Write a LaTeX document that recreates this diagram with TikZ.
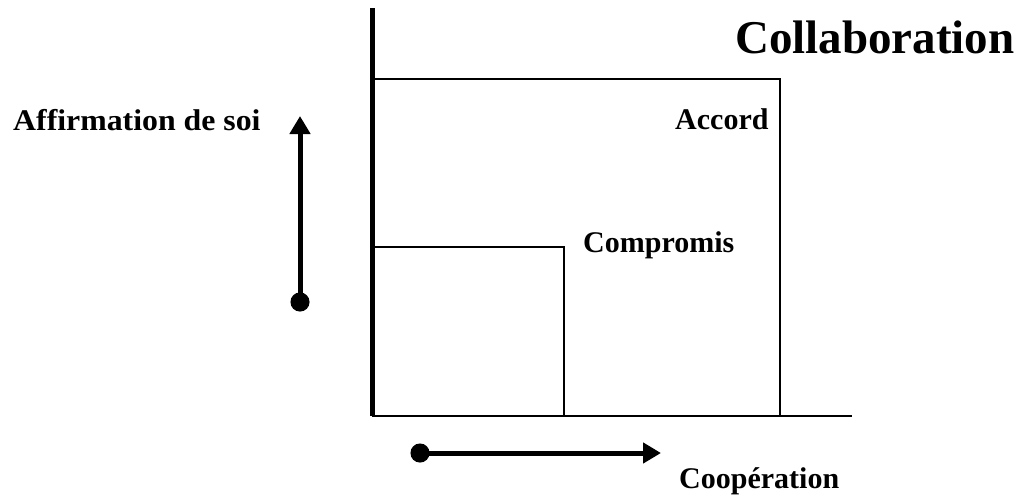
\documentclass[tikz,border=0pt]{standalone}
\usepackage{fontspec}
\setmainfont[Ligatures=CommonOff]{Liberation Serif}
\usetikzlibrary{arrows.meta}
\begin{document}
\begin{tikzpicture}[x=1pt,y=-1pt,
  lbl/.style={font=\fontsize{30}{34}\selectfont\bfseries, inner sep=0pt, anchor=base west},
  thin box/.style={line width=2pt},
  axisline/.style={line width=5pt},
  dirarrow/.style={line width=5pt, {Circle[length=19pt]}-{Triangle[length=18pt,width=20pt]}}]
\useasboundingbox (0,0) rectangle (1021,498);
% axes
\coordinate (ytop) at (372,8);
\coordinate (orig) at (372,416);
\coordinate (xend) at (852,416);
\draw[axisline] (ytop) -- (orig);
\draw[thin box] (orig) -- (xend);
% rectangles
\coordinate (outTL) at (372,79);
\coordinate (outTR) at (780,79);
\coordinate (outBR) at (780,416);
\draw[thin box] (outTL) -- (outTR) -- (outBR);
\coordinate (inTL) at (372,247);
\coordinate (inTR) at (564,247);
\coordinate (inBR) at (564,416);
\draw[thin box] (inTL) -- (inTR) -- (inBR);
% arrows
\coordinate (vs) at (300,311.5);
\coordinate (ve) at (300,116);
\draw[dirarrow] (vs) -- (ve);
\coordinate (hs) at (410.5,453);
\coordinate (he) at (661,453);
\draw[dirarrow] (hs) -- (he);
% labels
\node[lbl, font=\fontsize{47}{52}\selectfont\bfseries] (collab) at (735,53) {Collaboration};
\node[lbl, xscale=1.06] (affirm) at (13,130) {Affirmation de soi};
\node[lbl] (accord) at (675,129) {Accord};
\node[lbl] (compro) at (583,252) {Compromis};
\node[lbl] (coop) at (679,488) {Coopération};
\end{tikzpicture}
\end{document}
